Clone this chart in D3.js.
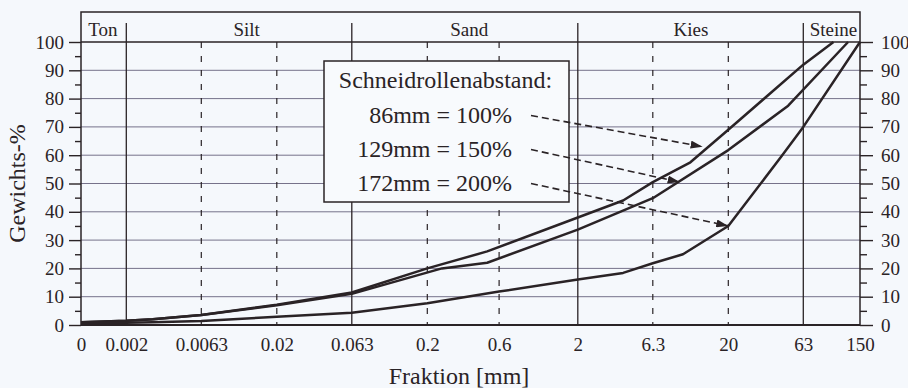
<!DOCTYPE html>
<html>
<head>
<meta charset="utf-8">
<script src="https://cdn.jsdelivr.net/npm/d3@7"></script>
<style>
  html, body { margin: 0; padding: 0; background: #f5f8fc; }
  svg { display: block; font-family: "Liberation Serif", "DejaVu Serif", serif; }
</style>
</head>
<body>
<div id="chart"></div>
<script>
// ── Data (grain size in mm, passing in %) ──
const xTickValues = [0.001, 0.002, 0.0063, 0.02, 0.063, 0.2, 0.6, 2, 6.3, 20, 63, 150];
const xTickLabels = ['0', '0.002', '0.0063', '0.02', '0.063', '0.2', '0.6', '2', '6.3', '20', '63', '150'];
const boundaryLines = [0.002, 0.063, 2, 63];
const subLines = [0.0063, 0.02, 0.2, 0.6, 6.3, 20];
const fractionNames = ['Ton', 'Silt', 'Sand', 'Kies', 'Steine'];
const fractionLabelAt = [0.0014, 0.0126, 0.38, 11.3, 100];

const curve100 = [[0.001, 1], [0.002, 1.5], [0.003, 2], [0.0063, 3.5], [0.02, 7.2], [0.063, 11.5],
  [0.2, 20], [0.5, 26], [2, 38], [4, 44], [6.3, 50.5], [11.2, 57.5], [20, 69], [63, 92], [100, 100]];
const curve150 = [[0.001, 1], [0.002, 1.5], [0.003, 2], [0.0063, 3.5], [0.02, 7], [0.063, 11],
  [0.25, 20], [0.5, 22], [2, 33.7], [6.3, 44.8], [20, 61.8], [50, 77.5], [125, 100]];
const curve200 = [[0.001, 0.5], [0.002, 0.8], [0.003, 1], [0.0063, 1.4], [0.02, 2.9], [0.063, 4.3],
  [0.2, 7.7], [0.6, 11.8], [2, 16.1], [4, 18.4], [6.3, 21.8], [10, 25], [20, 35], [45, 59.5], [63, 70], [150, 100]];

const legendTitle = 'Schneidrollenabstand:';
const legendLabels = ['86mm = 100%', '129mm = 150%', '172mm = 200%'];
const arrowTargets = [[13.5, 63], [9.5, 50.5], [20, 35]];

// ── Layout ──
const SVG_WIDTH = 908;
const SVG_HEIGHT = 388;
const MARGIN = { top: 42, right: 48, bottom: 63, left: 81 };
const HEADER = 30;
const width = SVG_WIDTH - MARGIN.left - MARGIN.right;
const height = SVG_HEIGHT - MARGIN.top - MARGIN.bottom;

const INK = '#2a2326';
const GRID = '#76728a';

const svg = d3.select('#chart').append('svg')
  .attr('width', SVG_WIDTH)
  .attr('height', SVG_HEIGHT);

svg.append('defs').append('marker')
  .attr('id', 'arrow')
  .attr('markerUnits', 'userSpaceOnUse')
  .attr('markerWidth', 12)
  .attr('markerHeight', 8)
  .attr('refX', 12)
  .attr('refY', 4)
  .attr('orient', 'auto')
  .append('path')
  .attr('d', 'M0,0 L12,4 L0,8 Z')
  .attr('fill', INK)
  .attr('stroke', 'none');

const g = svg.append('g')
  .attr('transform', `translate(${MARGIN.left},${MARGIN.top})`);

const x = d3.scaleLog().domain([0.001, 150]).range([0, width]);
const y = d3.scaleLinear().domain([0, 100]).range([height, 0]);

// ── Horizontal grid ──
g.append('g')
  .selectAll('line')
  .data(d3.range(10, 100, 10))
  .join('line')
  .attr('x1', 0).attr('x2', width)
  .attr('y1', d => y(d)).attr('y2', d => y(d))
  .attr('stroke', GRID)
  .attr('stroke-width', 1);

// ── Vertical lines ──
g.append('g')
  .selectAll('line')
  .data(subLines)
  .join('line')
  .attr('x1', d => x(d)).attr('x2', d => x(d))
  .attr('y1', 0).attr('y2', height)
  .attr('stroke', INK)
  .attr('stroke-width', 1.2)
  .attr('stroke-dasharray', '6,8');

g.append('g')
  .selectAll('line')
  .data(boundaryLines)
  .join('line')
  .attr('x1', d => x(d)).attr('x2', d => x(d))
  .attr('y1', -HEADER + 11).attr('y2', height)
  .attr('stroke', INK)
  .attr('stroke-width', 1.3);

// ── Frame + header ──
g.append('rect')
  .attr('x', 0).attr('y', -HEADER)
  .attr('width', width).attr('height', height + HEADER)
  .attr('fill', 'none')
  .attr('stroke', INK)
  .attr('stroke-width', 1.5);

g.append('line')
  .attr('x1', 0).attr('x2', width)
  .attr('y1', 0).attr('y2', 0)
  .attr('stroke', INK).attr('stroke-width', 1.6);

g.append('line')
  .attr('x1', 0).attr('x2', width)
  .attr('y1', height).attr('y2', height)
  .attr('stroke', INK).attr('stroke-width', 2);

g.append('g')
  .selectAll('text')
  .data(fractionNames)
  .join('text')
  .attr('x', (d, i) => x(fractionLabelAt[i]))
  .attr('y', -6)
  .attr('text-anchor', 'middle')
  .attr('font-size', '19px')
  .attr('fill', INK)
  .text(d => d);

// ── Axes ──
function styleAxis(sel) {
  sel.select('.domain').remove();
  sel.selectAll('line').attr('stroke', INK).attr('stroke-width', 1.4);
  sel.selectAll('text')
    .attr('fill', INK)
    .attr('font-size', '19px')
    .attr('font-family', '"Liberation Serif", serif');
}

const yMajor = d3.range(0, 101, 10);
const yMinor = d3.range(5, 100, 10);

g.append('g')
  .call(d3.axisLeft(y).tickValues(yMajor).tickSize(12).tickPadding(5))
  .call(styleAxis);
g.append('g')
  .call(d3.axisLeft(y).tickValues(yMinor).tickSize(6).tickFormat(''))
  .call(styleAxis);

g.append('g')
  .attr('transform', `translate(${width},0)`)
  .call(d3.axisRight(y).tickValues(yMajor).tickSize(13).tickPadding(8))
  .call(styleAxis);
g.append('g')
  .attr('transform', `translate(${width},0)`)
  .call(d3.axisRight(y).tickValues(yMinor).tickSize(7).tickFormat(''))
  .call(styleAxis);

g.append('g')
  .attr('transform', `translate(0,${height})`)
  .call(d3.axisBottom(x).tickValues(xTickValues).tickSize(0).tickPadding(13)
    .tickFormat((d, i) => xTickLabels[i]))
  .call(styleAxis);

svg.append('text')
  .attr('transform', `translate(25,${MARGIN.top + height / 2}) rotate(-90)`)
  .attr('text-anchor', 'middle')
  .attr('font-size', '24px')
  .attr('fill', INK)
  .text('Gewichts-%');

svg.append('text')
  .attr('x', 459)
  .attr('y', 384)
  .attr('text-anchor', 'middle')
  .attr('font-size', '24px')
  .attr('fill', INK)
  .text('Fraktion [mm]');

// ── Curves ──
const line = d3.line()
  .x(d => x(d[0]))
  .y(d => y(d[1]));

g.append('g')
  .selectAll('path')
  .data([curve100, curve150, curve200])
  .join('path')
  .attr('d', line)
  .attr('fill', 'none')
  .attr('stroke', INK)
  .attr('stroke-width', 2.5)
  .attr('stroke-linejoin', 'round');

// ── Legend box with arrows ──
const LEGEND = { x: 243, y: 19, w: 245, h: 141 };
const legend = g.append('g');

legend.append('rect')
  .attr('x', LEGEND.x).attr('y', LEGEND.y)
  .attr('width', LEGEND.w).attr('height', LEGEND.h)
  .attr('fill', '#f8fafd')
  .attr('stroke', INK)
  .attr('stroke-width', 1.5);

legend.append('text')
  .attr('x', LEGEND.x + LEGEND.w / 2 - 1)
  .attr('y', LEGEND.y + 27)
  .attr('text-anchor', 'middle')
  .attr('font-size', '24px')
  .attr('fill', INK)
  .text(legendTitle);

const labelRight = LEGEND.x + 188;
const labelBase = [80.5, 114.5, 148.5];

legend.selectAll('.lbl')
  .data(legendLabels)
  .join('text')
  .attr('class', 'lbl')
  .attr('x', labelRight)
  .attr('y', (d, i) => labelBase[i])
  .attr('text-anchor', 'end')
  .attr('font-size', '24px')
  .attr('fill', INK)
  .text(d => d);

g.append('g')
  .selectAll('line')
  .data(arrowTargets)
  .join('line')
  .attr('x1', labelRight + 19)
  .attr('y1', (d, i) => labelBase[i] - 7)
  .attr('x2', d => x(d[0]))
  .attr('y2', d => y(d[1]))
  .attr('stroke', INK)
  .attr('stroke-width', 1.6)
  .attr('stroke-dasharray', '7,4')
  .attr('marker-end', 'url(#arrow)');
</script>
</body>
</html>
